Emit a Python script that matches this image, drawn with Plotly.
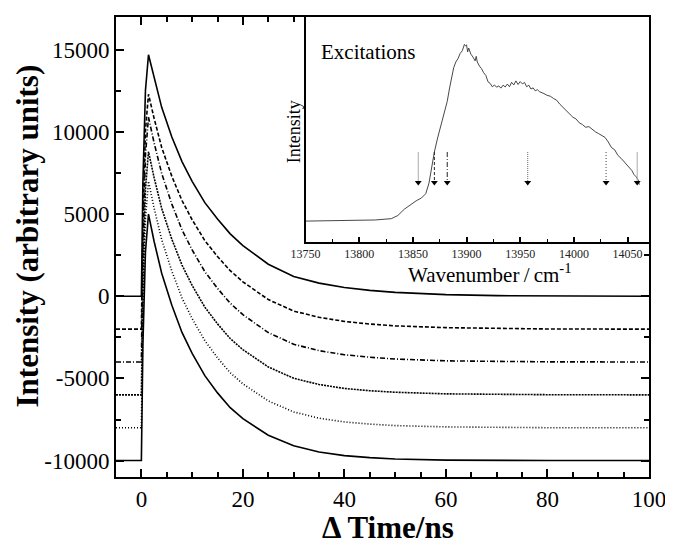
import plotly.graph_objects as go

# ---------------- data: main decay traces ----------------
time_ns = [-5, 0, 0.3, 0.8, 1.4, 2.5, 4, 6, 8, 10, 12.5, 15, 17.5, 20, 25, 30, 35, 40, 45, 50, 60, 70, 80, 100]

trace_0 = [0, 0, 6960, 12510, 14700, 13320, 11500, 9690, 8200, 7000, 5700, 4710, 3800, 3090, 1950, 1200, 800, 530, 360, 240, 100, 40, 15, 0]
trace_1 = [-2000, -2000, 4720, 10080, 12300, 10840, 9060, 7300, 5830, 4660, 3390, 2420, 1560, 880, -200, -900, -1280, -1530, -1690, -1800, -1910, -1960, -1990, -2000]
trace_2 = [-4000, -4000, 3000, 8590, 10900, 9350, 7480, 5610, 4050, 2820, 1500, 480, -420, -1120, -2210, -2920, -3310, -3560, -3710, -3820, -3930, -3970, -3990, -4000]
trace_3 = [-6000, -6000, 960, 6510, 8800, 7230, 5350, 3470, 1900, 660, -660, -1680, -2570, -3250, -4300, -4990, -5370, -5610, -5750, -5840, -5940, -5970, -5990, -6000]
trace_4 = [-8000, -8000, -950, 4680, 7000, 5380, 3450, 1530, -100, -1360, -2700, -3750, -4650, -5330, -6370, -7040, -7420, -7650, -7780, -7870, -7950, -7980, -8000, -8000]
trace_5 = [-10000, -10000, -2950, 2680, 5000, 3350, 1400, -550, -2200, -3480, -4830, -5880, -6780, -7450, -8460, -9100, -9480, -9700, -9820, -9900, -9970, -9990, -10000, -10000]
traces = [trace_0, trace_1, trace_2, trace_3, trace_4, trace_5]
trace_dash = ["solid", "4px,2px", "5px,2px,1px,2px", "2px,1px", "1px,2px", "solid"]

x_ticks = [0, 20, 40, 60, 80, 100]
x_ticktext = ["0", "20", "40", "60", "80", "100"]
y_ticks = [-10000, -5000, 0, 5000, 10000, 15000]
y_ticktext = ["-10000", "-5000", "0", "5000", "10000", "15000"]

# ---------------- data: inset excitation spectrum ----------------
wavenumber = [13750, 13775, 13800, 13815, 13830, 13836, 13842, 13848, 13853, 13858, 13862, 13865, 13867, 13870,
              13873, 13876, 13879, 13882, 13884, 13886, 13888, 13890, 13892, 13894, 13896, 13898, 13899, 13900,
              13901, 13902, 13904, 13906, 13908, 13909, 13910, 13912, 13914, 13916, 13918, 13920, 13922, 13924,
              13926, 13928, 13930, 13932, 13934, 13936, 13938, 13940, 13942, 13944, 13946, 13948, 13950, 13952,
              13954, 13956, 13958, 13960, 13962, 13964, 13966, 13968, 13970, 13972, 13975, 13978, 13981, 13984,
              13987, 13990, 13993, 13996, 13999, 14002, 14005, 14008, 14011, 14014, 14017, 14020, 14023, 14026,
              14029, 14032, 14035, 14038, 14041, 14044, 14047, 14050, 14052, 14054, 14056, 14058, 14060, 14061]
excitation = [0.093, 0.094, 0.095, 0.098, 0.104, 0.118, 0.146, 0.168, 0.183, 0.196, 0.215, 0.262, 0.318, 0.400,
              0.462, 0.520, 0.575, 0.625, 0.680, 0.725, 0.775, 0.800, 0.815, 0.838, 0.850, 0.878, 0.872, 0.876,
              0.845, 0.862, 0.835, 0.822, 0.805, 0.825, 0.800, 0.782, 0.770, 0.752, 0.740, 0.712, 0.705, 0.690,
              0.698, 0.688, 0.694, 0.684, 0.697, 0.689, 0.702, 0.690, 0.710, 0.698, 0.716, 0.700, 0.713, 0.703,
              0.709, 0.690, 0.697, 0.680, 0.685, 0.672, 0.677, 0.668, 0.665, 0.660, 0.652, 0.648, 0.638, 0.630,
              0.612, 0.598, 0.584, 0.572, 0.555, 0.547, 0.530, 0.522, 0.510, 0.513, 0.500, 0.490, 0.482, 0.475,
              0.465, 0.445, 0.420, 0.410, 0.385, 0.372, 0.355, 0.338, 0.325, 0.318, 0.300, 0.290, 0.275, 0.255]

arrow_wn = [13855, 13870, 13882, 13957, 14030, 14059]
arrow_top = [0.40, 0.40, 0.40, 0.40, 0.40, 0.40]
arrow_tip = [0.265, 0.265, 0.265, 0.265, 0.265, 0.265]
arrow_color = ["#aaaaaa", "#222222", "#222222", "#666666", "#444444", "#aaaaaa"]
arrow_dash = ["solid", "3px,2px", "5px,2px,1px,2px", "1px,1px", "1px,2px", "solid"]

inset_ticks = [13750, 13800, 13850, 13900, 13950, 14000, 14050]
inset_ticktext = ["13750", "13800", "13850", "13900", "13950", "14000", "14050"]

FONT = "Liberation Serif"

fig = go.Figure()

for tr, dsh in zip(traces, trace_dash):
    fig.add_trace(go.Scatter(x=time_ns, y=tr, mode="lines", xaxis="x", yaxis="y",
                             line=dict(color="black", width=1.6, dash=dsh), showlegend=False,
                             hoverinfo="skip"))

fig.add_trace(go.Scatter(x=wavenumber, y=excitation, mode="lines", xaxis="x2", yaxis="y2",
                         line=dict(color="#333333", width=0.9), showlegend=False, hoverinfo="skip"))

for w, t0, t1, c, d in zip(arrow_wn, arrow_top, arrow_tip, arrow_color, arrow_dash):
    fig.add_trace(go.Scatter(x=[w, w], y=[t0, t1], mode="lines", xaxis="x2", yaxis="y2",
                             line=dict(color=c, width=1, dash=d), showlegend=False, hoverinfo="skip"))
    fig.add_trace(go.Scatter(x=[w], y=[t1], mode="markers", xaxis="x2", yaxis="y2",
                             marker=dict(symbol="triangle-down", size=6, color="black"),
                             showlegend=False, hoverinfo="skip"))

axis_common = dict(showline=True, linecolor="black", linewidth=2, mirror="ticks", ticks="inside",
                   tickcolor="black", showgrid=False, zeroline=False,
                   tickfont=dict(family=FONT, size=23, color="black"))

# the page body adds an 8 px margin, so the figure is 8 px smaller and the margins are shifted
fig.update_layout(
    width=665, height=536,
    margin=dict(l=108, r=20, t=7, b=67),
    paper_bgcolor="white", plot_bgcolor="white",
    font=dict(family=FONT, color="black"),
    xaxis=dict(domain=[0, 1], range=[-5, 100], tickvals=x_ticks, ticktext=x_ticktext, ticklen=8, tickwidth=2,
               minor=dict(dtick=5, tick0=0, ticklen=5, tickwidth=1.5, ticks="inside", tickcolor="black"),
               anchor="y", **axis_common),
    yaxis=dict(domain=[0, 1], range=[-11000, 17000], tickvals=y_ticks, ticktext=y_ticktext, ticklen=8,
               tickwidth=2,
               minor=dict(dtick=2500, tick0=0, ticklen=5, tickwidth=1.5, ticks="inside", tickcolor="black"),
               anchor="x", **axis_common),
    xaxis2=dict(domain=[0.3557, 1.0], anchor="y2", range=[13750, 14070], tickvals=inset_ticks,
                ticktext=inset_ticktext,
                ticks="inside", ticklen=5, tickwidth=1.5, tickcolor="black",
                minor=dict(dtick=25, tick0=13750, ticklen=3, tickwidth=1.2, ticks="inside", tickcolor="black"),
                showline=True, linecolor="black", linewidth=1.8, mirror=True, showgrid=False, zeroline=False,
                tickfont=dict(family=FONT, size=12, color="#222222")),
    yaxis2=dict(domain=[0.5108, 1.0], anchor="x2", range=[0, 1], showticklabels=False, ticks="",
                showline=True, linecolor="black", linewidth=1.5, mirror=True, showgrid=False, zeroline=False),
    annotations=[
        dict(text="<b>Intensity (arbitrary units)</b>", xref="paper", yref="paper", x=-0.166, y=0.524,
             textangle=-90, showarrow=False, font=dict(family=FONT, size=31, color="black"),
             xanchor="center", yanchor="middle"),
        dict(text="<b>Δ Time/ns</b>", xref="paper", yref="paper", x=0.51, y=-0.11,
             showarrow=False, font=dict(family=FONT, size=31, color="black"),
             xanchor="center", yanchor="middle"),
        dict(text="Intensity", xref="paper", yref="paper", x=0.3333, y=0.751, textangle=-90,
             showarrow=False, font=dict(family=FONT, size=18, color="black"),
             xanchor="center", yanchor="middle"),
        dict(text="Wavenumber\u2009/\u2009cm<sup>-1</sup>", xref="paper", yref="paper", x=0.702, y=0.4416,
             showarrow=False, font=dict(family=FONT, size=21, color="black"),
             xanchor="center", yanchor="middle"),
        dict(text="Excitations", xref="paper", yref="paper", x=0.380, y=0.924,
             showarrow=False, font=dict(family=FONT, size=21, color="black"),
             xanchor="left", yanchor="middle"),
    ],
)

fig.write_html("out.html")
